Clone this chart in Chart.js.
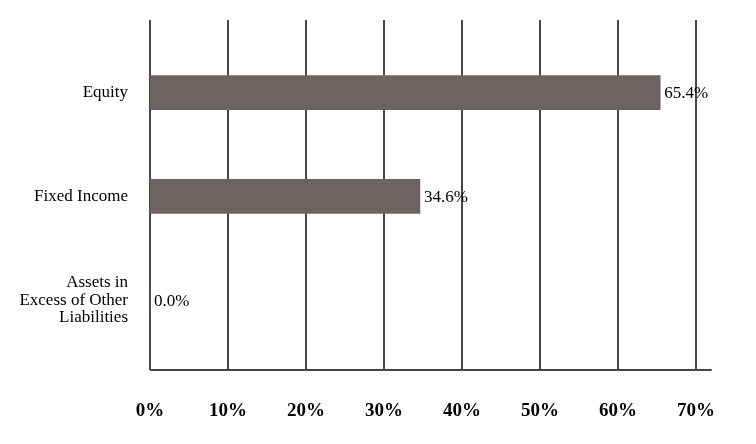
<!DOCTYPE html>
<html>
<head>
<meta charset="utf-8">
<script src="https://cdn.jsdelivr.net/npm/chart.js@4"></script>
<style>
  html, body { margin: 0; padding: 0; background: #fff; }
  #wrap { width: 756px; height: 444px; }
</style>
</head>
<body>
<div id="wrap"><canvas id="c"></canvas></div>
<script>
const categories = ["Equity", "Fixed Income", ["Assets in", "Excess of Other", "Liabilities"]]
const values = [65.4, 34.6, 0.0]
const valueLabels = ["65.4%", "34.6%", "0.0%"]
const tickValues = [0, 10, 20, 30, 40, 50, 60, 70]

const lineColor = "#4a4646"
const barColor = "#6b6462"

// grid lines and axis lines drawn across the full frame (taller than bar bands)
const frame = {
  id: "frame",
  beforeDatasetsDraw(chart) {
    const ctx = chart.ctx
    const x = chart.scales.x
    const top = 20, bottom = 370
    ctx.save()
    ctx.strokeStyle = lineColor
    ctx.lineWidth = 2
    tickValues.forEach(v => {
      const px = Math.round(x.getPixelForValue(v))
      ctx.beginPath()
      ctx.moveTo(px, top)
      ctx.lineTo(px, bottom)
      ctx.stroke()
    })
    ctx.beginPath()
    ctx.moveTo(x.getPixelForValue(0), bottom)
    ctx.lineTo(x.right, bottom)
    ctx.stroke()
    ctx.restore()
  },
  afterDatasetsDraw(chart) {
    const ctx = chart.ctx
    const meta = chart.getDatasetMeta(0)
    ctx.save()
    ctx.fillStyle = "#000"
    ctx.font = "17px 'Liberation Serif', serif"
    ctx.textBaseline = "middle"
    meta.data.forEach((bar, i) => {
      ctx.fillText(valueLabels[i], bar.x + 4, bar.y + 1)
    })
    ctx.restore()
  }
}

new Chart(document.getElementById("c"), {
  type: "bar",
  data: {
    labels: categories,
    datasets: [{
      data: values,
      backgroundColor: barColor,
      barThickness: 34
    }]
  },
  plugins: [frame],
  options: {
    indexAxis: "y",
    responsive: true,
    maintainAspectRatio: false,
    animation: false,
    layout: { padding: { top: 32, right: 33 } },
    plugins: { legend: { display: false }, tooltip: { enabled: false } },
    scales: {
      x: {
        min: 0,
        max: 72,
        afterBuildTicks: (axis) => { axis.ticks = tickValues.map(v => ({ value: v })) },
        afterFit: (axis) => { axis.height = 92 },
        grid: { display: false },
        border: { display: false },
        ticks: {
          padding: 40,
          color: "#000",
          font: { family: "'Liberation Serif', serif", size: 19, weight: "bold" },
          callback: (v) => v + "%"
        }
      },
      y: {
        afterFit: (axis) => { axis.width = 150 },
        grid: { display: false },
        border: { display: false },
        ticks: {
          padding: 14,
          color: "#000",
          font: { family: "'Liberation Serif', serif", size: 17, lineHeight: 1.05 }
        }
      }
    }
  }
})
</script>
</body>
</html>
